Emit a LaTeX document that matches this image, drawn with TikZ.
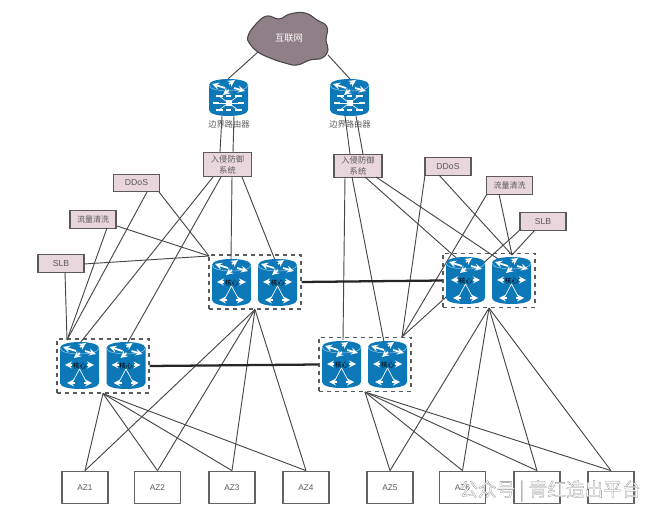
\documentclass[tikz,border=0pt]{standalone}
\usepackage{fontspec}
\setmainfont{Liberation Sans}
\newfontfamily\cjk{Noto Sans CJK SC}
\definecolor{routerblue}{HTML}{0C78B8}
\definecolor{boxpink}{HTML}{E8D6DC}
\definecolor{cloudgrey}{HTML}{8F8087}
\definecolor{inkgrey}{HTML}{474747}
\definecolor{textgrey}{HTML}{5A5A5A}
\tikzset{
    link/.style={draw=inkgrey,line width=0.7pt},
    trunk/.style={draw=black!85,line width=1.7pt},
    pinkbox/.style={draw=textgrey,fill=boxpink,line width=0.9pt,inner sep=0pt,minimum width=34.5pt,minimum height=13pt,align=center,font=\fontsize{6.5}{8.5}\selectfont,text=textgrey},
    azbox/.style={draw=inkgrey!85,fill=white,line width=0.8pt,inner sep=0pt,minimum width=34.5pt,minimum height=24.5pt,font=\fontsize{6.2}{7}\selectfont,text=textgrey},
    corebox/.style={draw=textgrey,dashed,line width=0.8pt,inner sep=0pt,minimum width=69pt,minimum height=40.5pt},
    cylspot/.style={inner sep=0pt,minimum width=29.25pt},
    whitebar/.style={draw=white,line width=1.3pt,-stealth},
    whitethin/.style={draw=white,line width=0.5pt},
}
% top surface of a cylinder, used by both icons
\newcommand{\cyltop}{
    \draw[white!70!routerblue,line width=0.3pt] (0,6) .. controls (0,14) and (39,14) .. (39,6);
    \draw[whitebar] (16,9) -- (3,5);
    \draw[whitebar] (20,5) -- (26,1);
    \draw[whitebar] (20,11) -- (14,16);
    \draw[whitebar] (25,9) -- (36,12);
}
% core switch: name, left, top
\newcommand{\corecyl}[3]{
    \begin{scope}[shift={(#2,#3)}]
    \fill[routerblue] (0,6) .. controls (0,-2) and (39,-2) .. (39,6) -- (39,41) .. controls (39,49) and (0,49) .. (0,41) -- cycle;
    \cyltop
    \draw[whitebar] (12,23) -- (5,23);
    \draw[whitebar] (27,23) -- (34,23);
    \draw[whitethin] (19.5,27) -- (12,41) (19.5,27) -- (27,41);
    \draw[whitebar] (15,41) -- (7,41);
    \draw[whitebar] (24,41) -- (32,41);
    \node[cylspot,minimum height=35.25pt] (#1) at (19.5,23.5) {};
    \node[text=black,font=\cjk\fontsize{5}{5}\selectfont,inner sep=0pt] (#1label) at (19.5,24) {核心};
    \end{scope}
}
% border router: name, left, top
\newcommand{\edgecyl}[3]{
    \begin{scope}[shift={(#2,#3)}]
    \fill[routerblue] (0,6) .. controls (0,-2) and (39,-2) .. (39,6) -- (39,31) .. controls (39,39) and (0,39) .. (0,31) -- cycle;
    \cyltop
    \foreach \tx/\ty in {10/17,29/17,7/24,32/24,10/31,29/31} {
        \draw[whitethin] (19.5,24) -- (\tx,\ty);
    }
    \foreach \ax/\bx/\ty in {7/14/17,17/22/17,26/33/17,4/10/24,29/35/24,7/14/31,17/22/31,26/33/31} {
        \draw[white,line width=1.3pt] (\ax,\ty) -- (\bx,\ty);
    }
    \fill[white] (16.5,21) rectangle (22.5,27);
    \node[cylspot,minimum height=27.75pt] (#1) at (19.5,18.5) {};
    \end{scope}
}

\begin{document}
\begin{tikzpicture}[x=0.75pt,y=0.75pt,yscale=-1,xscale=1]
\useasboundingbox (0,0) rectangle (650,509);

% pink boxes
\node[pinkbox,minimum width=36.5pt,minimum height=18.5pt,font=\cjk\fontsize{6.2}{8.4}\selectfont] (ipsL) at (227.5,164.5) {入侵防御\\系统};
\node[pinkbox,minimum width=36pt,minimum height=17.5pt,font=\cjk\fontsize{6.2}{8.4}\selectfont] (ipsR) at (358,166) {入侵防御\\系统};
\node[pinkbox] (ddosL) at (136.5,183) {DDoS};
\node[pinkbox,font=\cjk\fontsize{6}{8}\selectfont] (flowL) at (93,219.5) {流量清洗};
\node[pinkbox] (slbL) at (61,263.5) {SLB};
\node[pinkbox] (ddosR) at (448,166.5) {DDoS};
\node[pinkbox,font=\cjk\fontsize{6}{8}\selectfont] (flowR) at (509.5,185.5) {流量清洗};
\node[pinkbox] (slbR) at (543,221.5) {SLB};

% AZ boxes
\node[azbox] (az1) at (85,487.5) {AZ1};
\node[azbox] (az2) at (157.5,487.5) {AZ2};
\node[azbox] (az3) at (232,487.5) {AZ3};
\node[azbox] (az4) at (306,487.5) {AZ4};
\node[azbox] (az5) at (390,487.5) {AZ5};
\node[azbox] (az6) at (462.5,487.5) {AZ6};
\node[azbox] (az7) at (537,487.5) {};
\node[azbox] (az8) at (611,487.5) {};

% dashed groups
\node[corebox] (groupTL) at (255,282) {};
\node[corebox] (groupBL) at (103,366) {};
\node[corebox] (groupBR) at (365,364.5) {};
\node[corebox] (groupTR) at (489,280.5) {};

% free ends of the links
\coordinate (netL) at (258,52);
\coordinate (netR) at (328,55);
\coordinate (brLa) at (222,116);
\coordinate (brLb) at (234,116);
\coordinate (brRa) at (345,116);
\coordinate (brRb) at (356,116);
\coordinate (ipsLinA) at (220,152);
\coordinate (ipsLinB) at (233,152);
\coordinate (ipsRinA) at (350,154);
\coordinate (ipsRinB) at (363,154);
\coordinate (ipsLa) at (213,177);
\coordinate (ipsLb) at (221,177);
\coordinate (ipsLc) at (232,177);
\coordinate (ipsLd) at (242,177);
\coordinate (ipsRa) at (345,177);
\coordinate (ipsRb) at (352,177);
\coordinate (ipsRc) at (365,177);
\coordinate (ipsRd) at (376,177);
\coordinate (hubBL) at (67,340);
\coordinate (hubTL) at (209,256);
\coordinate (hubBR) at (402,337);
\coordinate (hubTR) at (512,255);
\coordinate (tipTRa) at (462,263);
\coordinate (tipTRb) at (507,265);
\coordinate (tipTLb) at (275,260);
\coordinate (tipBLb) at (128,342);
\coordinate (tipBRb) at (384,342);
\coordinate (tipBRa) at (343,340);
\coordinate (tipBLa) at (80,343);
\coordinate (tipTLa) at (231,259);
\coordinate (ddosLa) at (147,192);
\coordinate (ddosLb) at (159,192);
\coordinate (flowLa) at (107,228);
\coordinate (flowLb) at (117,226);
\coordinate (slbLa) at (65,272);
\coordinate (slbLb) at (84,264);
\coordinate (ddosRa) at (425,175);
\coordinate (ddosRb) at (439,175);
\coordinate (flowRa) at (487,194);
\coordinate (flowRb) at (499,194);
\coordinate (slbRa) at (521,229);
\coordinate (slbRb) at (535,230);

% links
\draw[link] (netL) -- (228,79);
\draw[link] (netR) -- (350,79);
\draw[link] (brLa) -- (ipsLinA);
\draw[link] (brLb) -- (ipsLinB);
\draw[link] (brRa) -- (ipsRinA);
\draw[link] (brRb) -- (ipsRinB);
\draw[link] (ipsLa) -- (tipBLa);
\draw[link] (ipsLb) -- (tipBLb);
\draw[link] (ipsLc) -- (tipTLa);
\draw[link] (ipsLd) -- (tipTLb);
\draw[link] (ipsRa) -- (tipBRa);
\draw[link] (ipsRb) -- (tipBRb);
\draw[link] (ipsRc) -- (tipTRa);
\draw[link] (ipsRd) -- (tipTRb);
\draw[link] (ddosLa) -- (hubBL);
\draw[link] (flowLa) -- (hubBL);
\draw[link] (slbLa) -- (hubBL);
\draw[link] (ddosLb) -- (hubTL);
\draw[link] (flowLb) -- (hubTL);
\draw[link] (slbLb) -- (hubTL);
\draw[link] (ddosRa) -- (hubBR);
\draw[link] (flowRa) -- (hubBR);
\draw[link] (slbRa) -- (hubBR);
\draw[link] (ddosRb) -- (hubTR);
\draw[link] (flowRb) -- (hubTR);
\draw[link] (slbRb) -- (hubTR);
\foreach \a in {1,...,4} {
    \draw[link] (groupBL.south) -- (az\a.north);
    \draw[link] (groupTL.south) -- (az\a.north);
}
\foreach \a in {5,...,8} {
    \draw[link] (groupBR.south) -- (az\a.north);
    \draw[link] (groupTR.south) -- (az\a.north);
}
\draw[trunk] (groupTL.east) -- (groupTR.west);
\draw[trunk] (groupBL.east) -- (groupBR.west);

% cylinders
\edgecyl{brL}{209}{79}
\edgecyl{brR}{330}{79}
\corecyl{coreTLa}{212}{259}
\corecyl{coreTLb}{258}{259}
\corecyl{coreBLa}{60}{342}
\corecyl{coreBLb}{106.5}{342}
\corecyl{coreBRa}{322}{341}
\corecyl{coreBRb}{368}{341}
\corecyl{coreTRa}{446}{257}
\corecyl{coreTRb}{492}{257}

% cloud and labels
\draw[draw=inkgrey,fill=cloudgrey,line width=0.8pt] plot[smooth cycle,tension=0.75] coordinates {(248,36) (256,24) (267,16) (279,19) (290,14) (305,13) (317,20) (327,27) (326,40) (328,50) (322,58) (310,60) (297,65) (285,63) (270,58) (258,52) (250,44)};
\node[text=white,font=\cjk\fontsize{7}{9}\selectfont,inner sep=0pt] (net) at (289,38.5) {互联网};
\node[font=\cjk\fontsize{6.2}{8}\selectfont,text=textgrey,inner sep=0pt] (brLlabel) at (229,124) {边界路由器};
\node[font=\cjk\fontsize{6.2}{8}\selectfont,text=textgrey,inner sep=0pt] (brRlabel) at (350,124) {边界路由器};

% watermark
\node[anchor=west,inner sep=0pt,text=white,font=\cjk\fontsize{14}{16}\selectfont] (mark) at (459,491) {\special{pdf:code 2 Tr 0.2 w 0.55 G}公众号 | 青红造出平台\special{pdf:code 0 Tr}};

\end{tikzpicture}
\end{document}
